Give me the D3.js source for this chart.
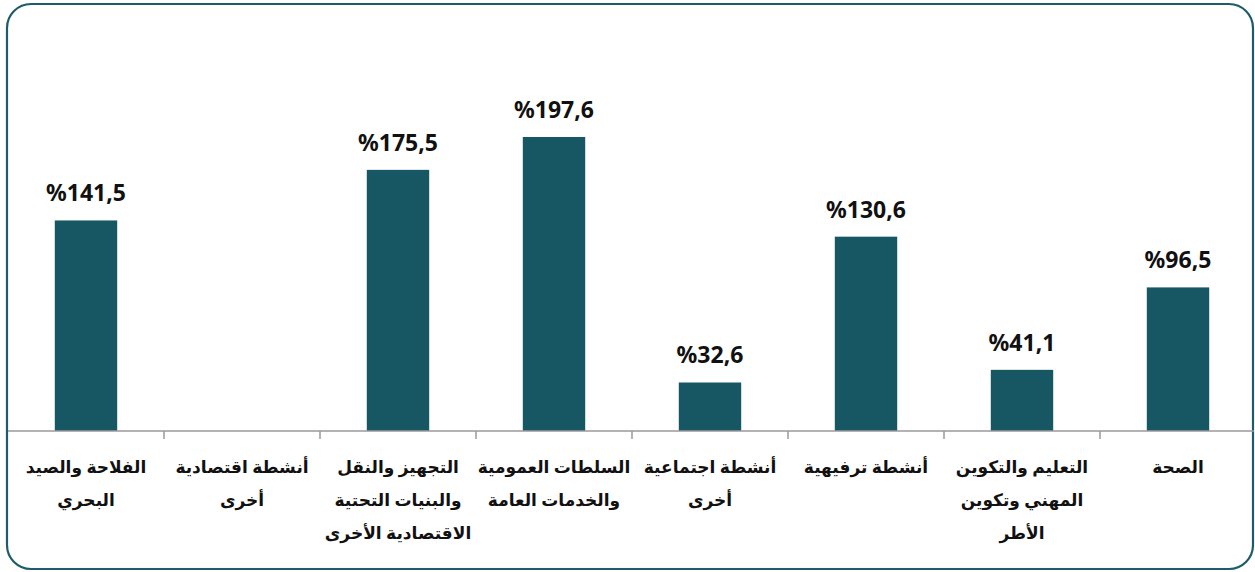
<!DOCTYPE html>
<html>
<head>
<meta charset="utf-8">
<script src="https://cdn.jsdelivr.net/npm/d3@7/dist/d3.min.js"></script>
<style>
  body { margin: 0; background: #fff; }
  svg { display: block; }
</style>
</head>
<body>
<script>
var width = 1255;
var height = 572;

// categories, left to right, already split into lines
var categories = [
  ["الفلاحة والصيد", "البحري"],
  ["أنشطة اقتصادية", "أخرى"],
  ["التجهيز والنقل", "والبنيات التحتية", "الاقتصادية الأخرى"],
  ["السلطات العمومية", "والخدمات العامة"],
  ["أنشطة اجتماعية", "أخرى"],
  ["أنشطة ترفيهية"],
  ["التعليم والتكوين", "المهني وتكوين", "الأطر"],
  ["الصحة"]
];
var values = [141.5, null, 175.5, 197.6, 32.6, 130.6, 41.1, 96.5];

var barColor = "#175763";
var frameColor = "#1d5c68";

var svg = d3.select("body").append("svg")
  .attr("width", width)
  .attr("height", height);

// rounded frame
svg.append("rect")
  .attr("x", 7).attr("y", 4)
  .attr("width", 1246).attr("height", 565)
  .attr("rx", 24).attr("ry", 24)
  .attr("fill", "none")
  .attr("stroke", frameColor)
  .attr("stroke-width", 2.2);

var x = d3.scaleBand()
  .domain(d3.range(categories.length))
  .range([8, 1256])
  .paddingInner(0.6)
  .paddingOuter(0.3);

var y = d3.scaleLinear()
  .domain([0, 250])
  .range([431, 59]);

var data = values.map(function(v, i) { return { i: i, v: v, lines: categories[i] }; });

// bars
svg.append("g").selectAll("rect")
  .data(data.filter(function(d) { return d.v != null; }))
  .enter().append("rect")
  .attr("x", function(d) { return x(d.i); })
  .attr("y", function(d) { return y(d.v); })
  .attr("width", x.bandwidth())
  .attr("height", function(d) { return y(0) - y(d.v); })
  .attr("fill", barColor);

// value labels
svg.append("g").selectAll("text")
  .data(data.filter(function(d) { return d.v != null; }))
  .enter().append("text")
  .attr("x", function(d) { return x(d.i) + x.bandwidth() / 2; })
  .attr("y", function(d) { return y(d.v) - 19; })
  .attr("text-anchor", "middle")
  .attr("direction", "ltr")
  .style("font-family", "'Noto Sans', 'DejaVu Sans', sans-serif")
  .style("font-weight", "bold")
  .style("font-size", "23px")
  .attr("fill", "#111")
  .text(function(d) { return "%" + d3.format(".1f")(d.v).replace(".", ","); });

// x axis: baseline with ticks at band boundaries
var step = x.step();
var edges = d3.range(1, categories.length).map(function(i) { return x(i) - x.paddingInner() * step / 2; });
var axis = svg.append("g");
axis.append("line")
  .attr("x1", 8).attr("x2", 1254)
  .attr("y1", y(0)).attr("y2", y(0))
  .attr("stroke", "#9a9a9a")
  .attr("stroke-width", 1.5);
axis.selectAll("line.tick")
  .data(edges)
  .enter().append("line")
  .attr("class", "tick")
  .attr("x1", function(d) { return d; }).attr("x2", function(d) { return d; })
  .attr("y1", y(0)).attr("y2", y(0) + 8)
  .attr("stroke", "#9a9a9a")
  .attr("stroke-width", 1.5);

// category labels
var labels = axis.selectAll("text.cat")
  .data(data)
  .enter().append("text")
  .attr("class", "cat")
  .attr("text-anchor", "middle")
  .attr("direction", "rtl")
  .style("font-family", "'Noto Sans', 'DejaVu Sans', sans-serif")
  .style("font-weight", "bold")
  .style("font-size", "17px")
  .attr("fill", "#111");

labels.selectAll("tspan")
  .data(function(d) { return d.lines.map(function(l) { return { t: l, cx: x(d.i) + x.bandwidth() / 2 }; }); })
  .enter().append("tspan")
  .attr("x", function(d) { return d.cx; })
  .attr("y", function(d, j) { return 473 + j * 33; })
  .text(function(d) { return d.t; });
</script>
</body>
</html>
